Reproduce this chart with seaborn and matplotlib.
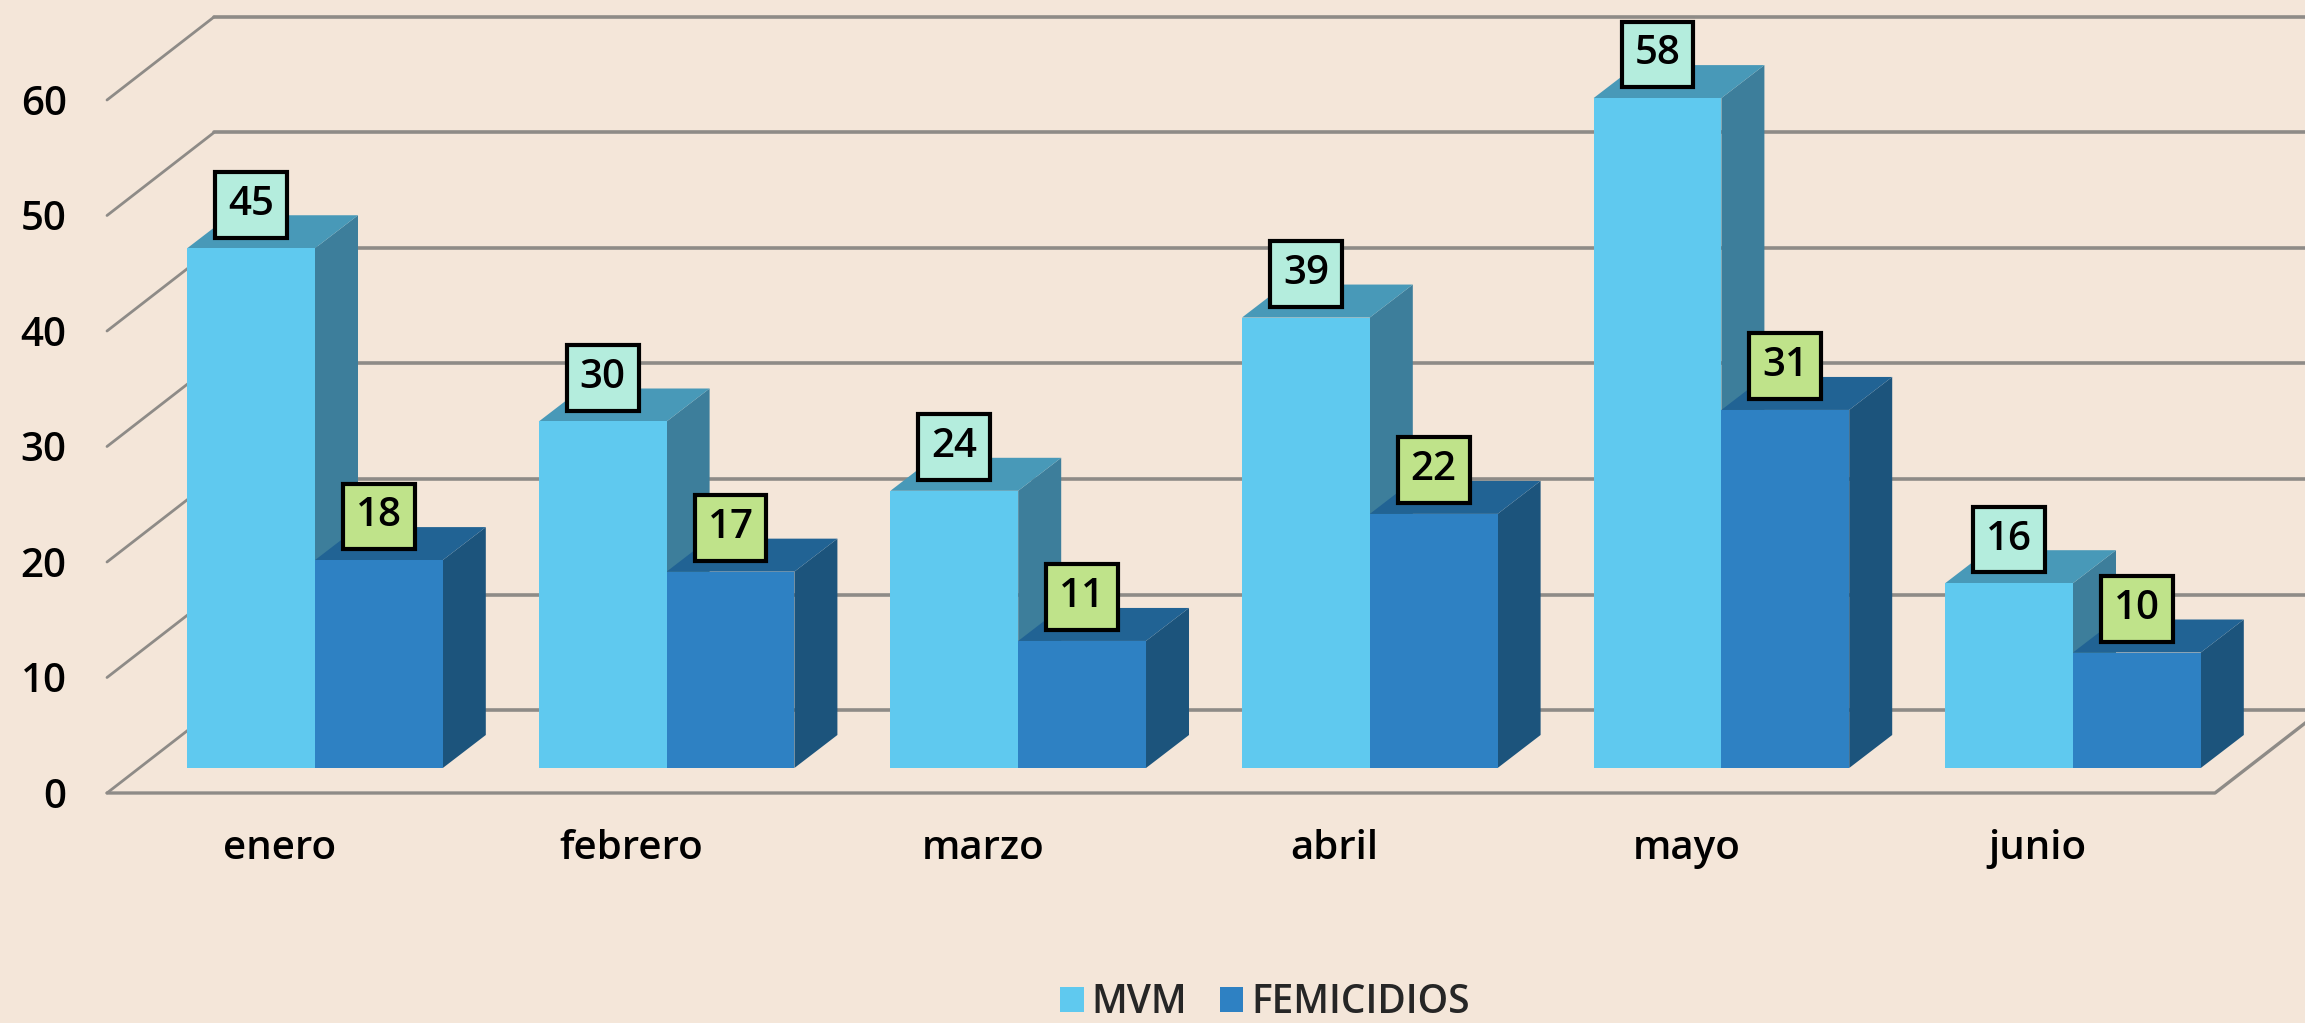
import matplotlib
matplotlib.use('Agg')
import matplotlib.pyplot as plt
import seaborn as sns
import pandas as pd
from matplotlib.patches import Polygon

meses = ['enero', 'febrero', 'marzo', 'abril', 'mayo', 'junio']
mvm = [45, 30, 24, 39, 58, 16]
femicidios = [18, 17, 11, 22, 31, 10]
y_ticks = [0, 10, 20, 30, 40, 50, 60]

BG = '#F4E6D9'
GRID = '#8E8B87'
colores = {'MVM': '#5FC9EF', 'FEMICIDIOS': '#2E81C3'}
lados = {'MVM': '#3D7E9B', 'FEMICIDIOS': '#1C547C'}
techos = {'MVM': '#4899B8', 'FEMICIDIOS': '#216394'}
cajas = {'MVM': '#B4EDDD', 'FEMICIDIOS': '#BFE38A'}

sns.set_theme(style='white')
plt.rcParams['font.family'] = ['Open Sans', 'DejaVu Sans']
plt.rcParams['font.weight'] = 600

# pixel layout of the fake 3D box, converted to data units
PX_X = 351.6
PX_Y = 11.55
DX = 43 / PX_X
DY = 33 / PX_Y
FLOOR_FRONT = -25 / PX_Y
FLOOR_BACK = 58 / PX_Y
X_FRONT = (107 - 315) / PX_X
X_BACK = (214 - 315) / PX_X
X_END = (2215 - 315) / PX_X

df = pd.DataFrame({
    'mes': meses * 2,
    'casos': mvm + femicidios,
    'serie': ['MVM'] * len(meses) + ['FEMICIDIOS'] * len(meses),
})

fig = plt.figure(figsize=(23.05, 10.23), dpi=100, facecolor=BG)
ax = fig.add_axes([0, 0, 1, 1], facecolor=BG)

sns.barplot(data=df, x='mes', y='casos', hue='serie', palette=colores,
            width=0.727, gap=0, saturation=1, linewidth=0, ax=ax, zorder=3)

ax.set_xlim(-315 / PX_X, (2305 - 315) / PX_X)
ax.set_ylim((768 - 1023) / PX_Y, 768 / PX_Y)

# Gridlines: diagonal on the wall, then horizontal along the back
for v in y_ticks:
    ax.plot([X_FRONT, X_BACK], [v + FLOOR_FRONT, v + FLOOR_BACK], color=GRID, lw=2, zorder=1)
    ax.plot([X_BACK, 5.8], [v + FLOOR_BACK, v + FLOOR_BACK], color=GRID, lw=2.6, zorder=1)
ax.plot([X_FRONT, X_END, X_END + 107 / PX_X], [FLOOR_FRONT, FLOOR_FRONT, FLOOR_BACK],
        color=GRID, lw=2.4, zorder=1)

# Side and top faces of each bar
for k, (container, serie) in enumerate(zip(ax.containers, ['MVM', 'FEMICIDIOS'])):
    for bar in container:
        x0, x1 = bar.get_x(), bar.get_x() + bar.get_width()
        h = bar.get_height()
        ax.add_patch(Polygon([(x1, 0), (x1 + DX, DY), (x1 + DX, h + DY), (x1, h)],
                             fc=lados[serie], ec='none', zorder=2 + k * 0.2))
        ax.add_patch(Polygon([(x0, h), (x0 + DX, h + DY), (x1 + DX, h + DY), (x1, h)],
                             fc=techos[serie], ec='none', zorder=2.1 + k * 0.2))
    ax.bar_label(container, padding=17, fontsize=29, color='black', zorder=5,
                 bbox=dict(boxstyle='square,pad=0.32', fc=cajas[serie], ec='black', lw=3))

ax.set_xlabel('')
ax.set_ylabel('')
ax.set_xticks([i - 0.1 for i in range(len(meses))], meses)
ax.set_yticks([v + FLOOR_FRONT for v in y_ticks], y_ticks)
ax.tick_params(axis='x', length=0, pad=26, labelsize=29, colors='black')
ax.tick_params(axis='y', length=0, pad=29, labelsize=29, colors='black')
ax.spines['bottom'].set_position(('data', FLOOR_FRONT))
ax.spines['left'].set_position(('data', X_FRONT))
for s in ax.spines.values():
    s.set_visible(False)

sns.move_legend(ax, 'center', bbox_to_anchor=(1265 / 2305, 1 - 1003 / 1023),
                bbox_transform=fig.transFigure, ncol=2, frameon=False, title=None,
                fontsize=28, handlelength=0.6, handleheight=0.6,
                handletextpad=0.2, columnspacing=0.85, borderpad=0, borderaxespad=0)

plt.savefig('out.png', dpi=100, facecolor=BG)
plt.close()
